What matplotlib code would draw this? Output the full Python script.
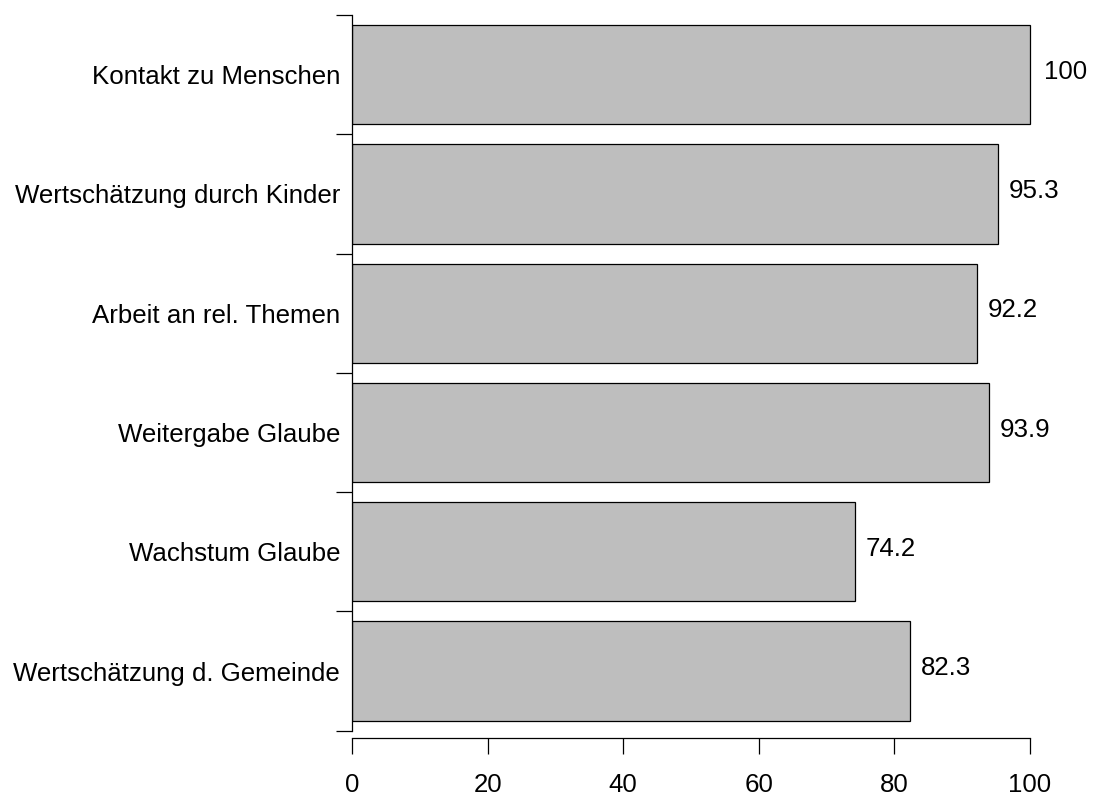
import matplotlib
matplotlib.use("Agg")
import matplotlib.pyplot as plt
import numpy as np

categories = ["Wertschätzung d. Gemeinde", "Wachstum Glaube", "Weitergabe Glaube",
              "Arbeit an rel. Themen", "Wertschätzung durch Kinder", "Kontakt zu Menschen"]
values = [82.3, 74.2, 93.9, 92.2, 95.3, 100]
value_labels = ["82.3", "74.2", "93.9", "92.2", "95.3", "100"]
xticks = [0, 20, 40, 60, 80, 100]

plt.rcParams['font.family'] = ['Liberation Sans', 'DejaVu Sans']
FS = 18.6

W, H = 1099, 802
fig = plt.figure(figsize=(W / 100, H / 100), dpi=100)
left_px, right_px, top_px, bot_px = 352, 1090, 5, 738
ax = fig.add_axes([left_px / W, (H - bot_px) / H, (right_px - left_px) / W, (bot_px - top_px) / H])

n = len(categories)
centers = 0.7 + 1.2 * np.arange(n)
ax.barh(centers, values, height=1.0, color="#BEBEBE", edgecolor="black", linewidth=0.9)

px_per_x = (1030 - 352) / 100.0
ax.set_xlim(0, (right_px - left_px) / px_per_x)
px_per_y = (730.7 - 15) / 7.2
top_data = 7.3 + (15 - top_px) / px_per_y
ax.set_ylim(top_data - (bot_px - top_px) / px_per_y, top_data)

for c, v, lab in zip(centers, values, value_labels):
    ax.text(v + 36 / px_per_x, c + 0.03, lab, ha="center", va="center", fontsize=FS)

for s in ["top", "right"]:
    ax.spines[s].set_visible(False)
ax.spines["left"].set_bounds(0.1, 0.1 + 1.2 * n)
ax.spines["bottom"].set_bounds(0, 100)
for s in ["left", "bottom"]:
    ax.spines[s].set_linewidth(0.9)

ax.set_yticks(centers)
ax.set_yticklabels(categories, fontsize=FS)
ax.tick_params(axis="y", which="major", length=0, pad=8.5)
ax.set_yticks(0.1 + 1.2 * np.arange(n + 1), minor=True)
ax.tick_params(axis="y", which="minor", length=11.5, width=0.9, direction="out")

ax.set_xticks(xticks)
ax.set_xticklabels([str(t) for t in xticks], fontsize=FS)
ax.tick_params(axis="x", which="major", length=11.5, width=0.9, pad=13.5)

fig.savefig("out.png", dpi=100)
